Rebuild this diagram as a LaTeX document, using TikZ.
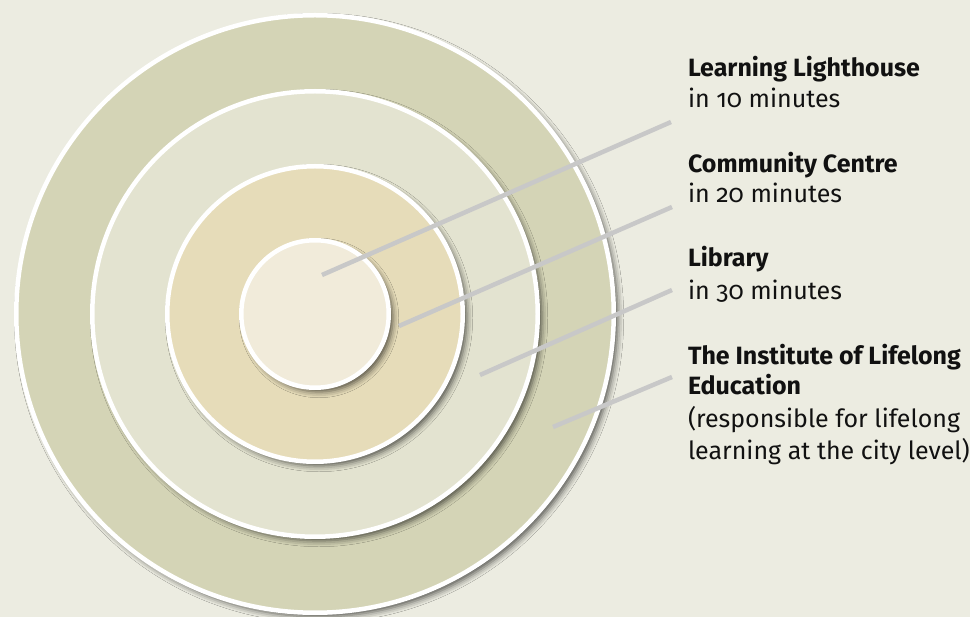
\documentclass[tikz,border=0pt]{standalone}
\usepackage{fontspec}
\setmainfont{Fira Sans}[Numbers=OldStyle]
\usetikzlibrary{shadows.blur}
\definecolor{bg}{HTML}{ECECE1}
\definecolor{ringA}{HTML}{D4D4B6}
\definecolor{ringB}{HTML}{E3E3D0}
\definecolor{ringC}{HTML}{E6DCB9}
\definecolor{ringD}{HTML}{F1EBDA}
\definecolor{connc}{HTML}{C8C8C8}
\definecolor{txt}{HTML}{111111}
\tikzset{
  ring/.style={circle, inner sep=0pt, outer sep=0pt, draw=white, line width=4.5pt,
    blur shadow={shadow xshift=4pt, shadow yshift=-4pt, shadow blur radius=6pt, shadow opacity=65}},
  conn/.style={draw=connc, line width=4.5pt},
  lbl/.style={anchor=base west, inner sep=0pt, outer sep=0pt, text=txt, font=\fontsize{25}{31}\selectfont},
}
\begin{document}
\begin{tikzpicture}[x=1pt, y=-1pt]
\useasboundingbox (0,0) rectangle (970,617);
\fill[bg] (0,0) rectangle (970,617);
\node[ring, fill=ringA, minimum size=597.5pt] (c4) at (315,314) {};
\node[ring, fill=ringB, minimum size=445.5pt] (c3) at (315,314) {};
\node[ring, fill=ringC, minimum size=295.5pt] (c2) at (315,314) {};
\node[ring, fill=ringD, minimum size=147.5pt] (c1) at (315,314) {};
\coordinate (s1) at (322,275); \coordinate (e1) at (671,122);
\coordinate (s2) at (399,326); \coordinate (e2) at (672,207);
\coordinate (s3) at (480,375); \coordinate (e3) at (672,290);
\coordinate (s4) at (553,427); \coordinate (e4) at (672,377);
\draw[conn] (s1) -- (e1);
\draw[conn] (s2) -- (e2);
\draw[conn] (s3) -- (e3);
\draw[conn] (s4) -- (e4);
\node[lbl] (t1a) at (688,77) {\bfseries Learning Lighthouse};
\node[lbl] (t1b) at (688,108) {in 10 minutes};
\node[lbl] (t2a) at (688,173) {\bfseries Community Centre};
\node[lbl] (t2b) at (688,203) {in 20 minutes};
\node[lbl] (t3a) at (688,267) {\bfseries Library};
\node[lbl] (t3b) at (688,300) {in 30 minutes};
\node[lbl] (t4a) at (688,365) {\bfseries The Institute of Lifelong};
\node[lbl] (t4b) at (688,395) {\bfseries Education};
\node[lbl] (t4c) at (688,428) {(responsible for lifelong};
\node[lbl] (t4d) at (688,460) {learning at the city level)};
\end{tikzpicture}
\end{document}
